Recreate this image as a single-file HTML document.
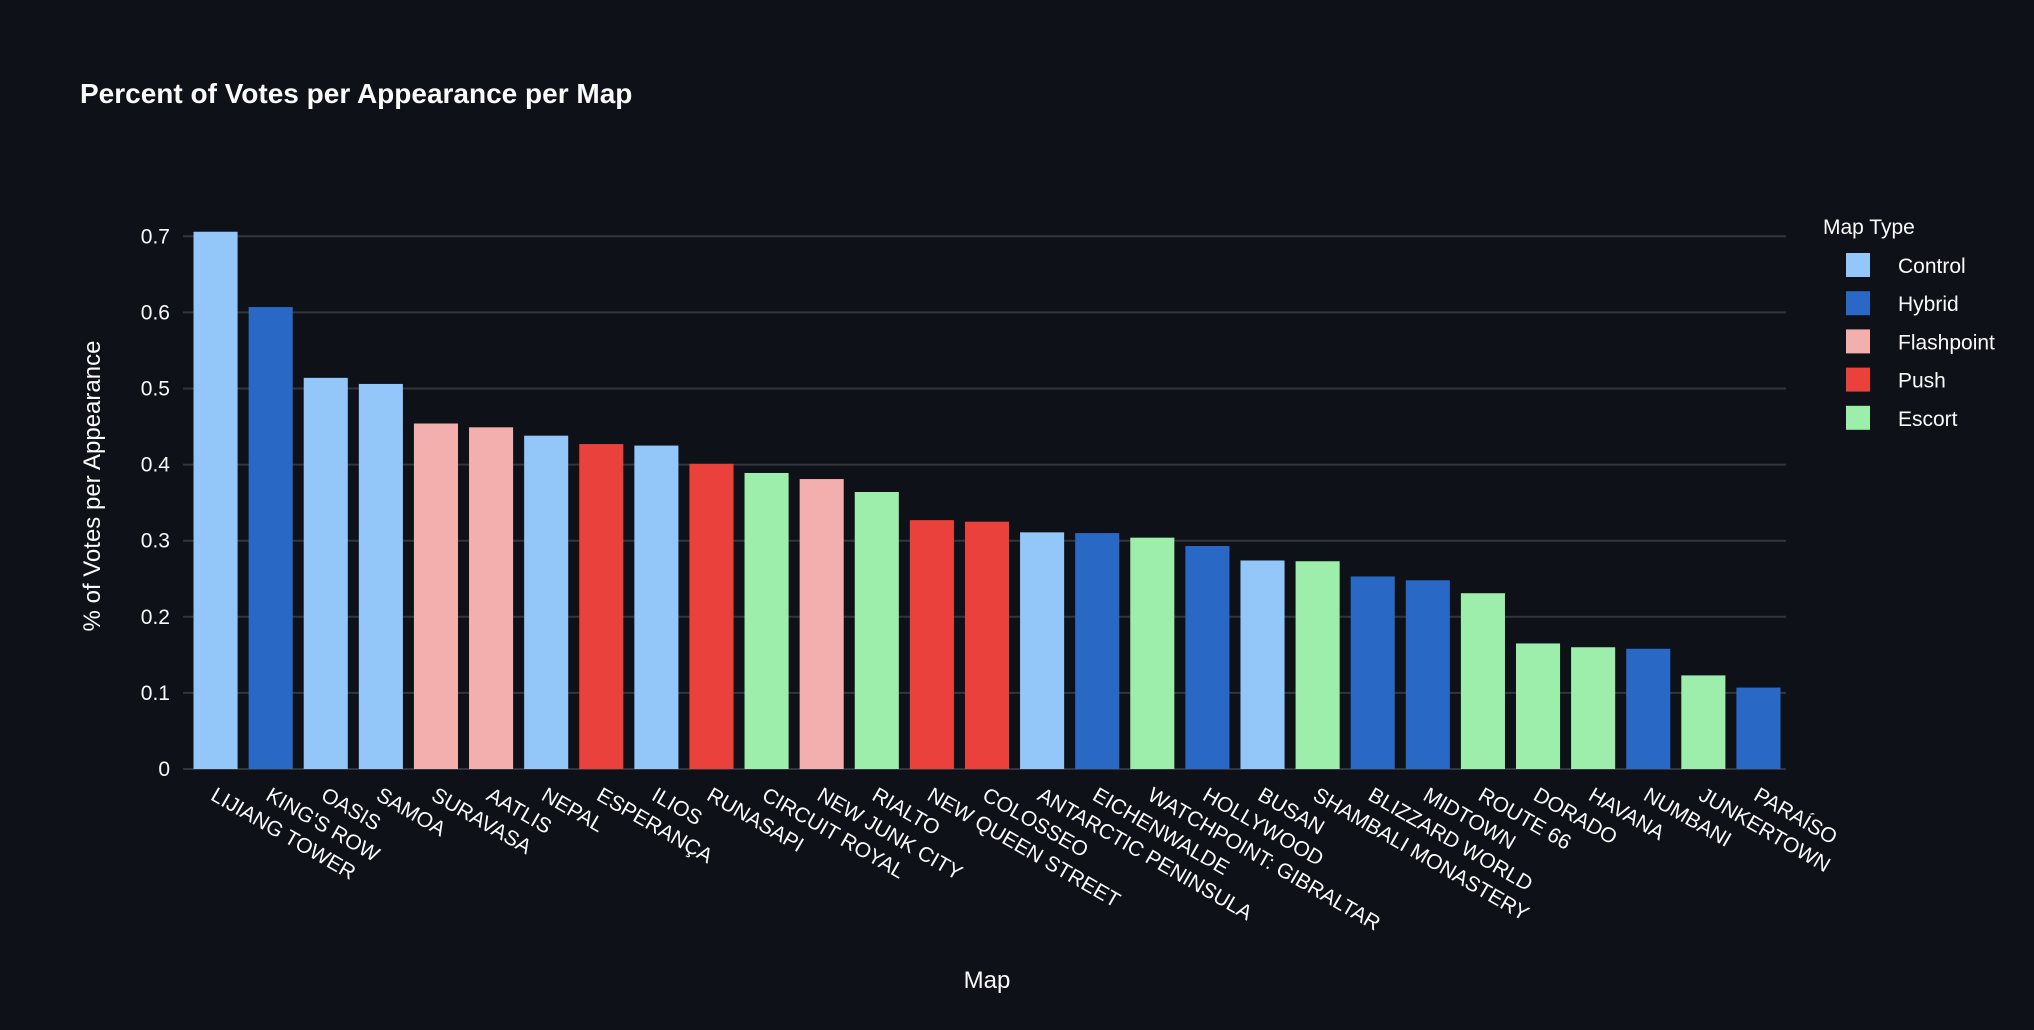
<!DOCTYPE html>
<html><head><meta charset="utf-8"><style>
html,body{margin:0;padding:0;background:#0e1117;}
svg{display:block;font-family:"Liberation Sans","DejaVu Sans",sans-serif;}
</style></head><body>
<svg id="chart" width="2034" height="1030" viewBox="0 0 2034 1030" xmlns="http://www.w3.org/2000/svg">
<rect width="2034" height="1030" fill="#0e1117"/>
<text x="80" y="103" fill="#fafafa" font-size="28" font-weight="bold">Percent of Votes per Appearance per Map</text>
<g id="grid"></g><g id="bars"></g><g id="yticks"></g><g id="xticks"></g>
<text transform="translate(100,486) rotate(-90)" text-anchor="middle" fill="#fafafa" font-size="24">% of Votes per Appearance</text>
<text x="987" y="988" text-anchor="middle" fill="#fafafa" font-size="24">Map</text>
<g id="legend">
<text x="1823" y="234" fill="#fafafa" font-size="21">Map Type</text>
</g>
</svg>
<script>
const categories=["LIJIANG TOWER","KING'S ROW","OASIS","SAMOA","SURAVASA","AATLIS","NEPAL","ESPERANÇA","ILIOS","RUNASAPI","CIRCUIT ROYAL","NEW JUNK CITY","RIALTO","NEW QUEEN STREET","COLOSSEO","ANTARCTIC PENINSULA","EICHENWALDE","WATCHPOINT: GIBRALTAR","HOLLYWOOD","BUSAN","SHAMBALI MONASTERY","BLIZZARD WORLD","MIDTOWN","ROUTE 66","DORADO","HAVANA","NUMBANI","JUNKERTOWN","PARAÍSO"];
const values=[0.706,0.607,0.514,0.506,0.454,0.449,0.438,0.427,0.425,0.401,0.389,0.381,0.364,0.327,0.325,0.311,0.310,0.304,0.293,0.274,0.273,0.253,0.248,0.231,0.165,0.160,0.158,0.123,0.107];
const mapTypes=["Control","Hybrid","Control","Control","Flashpoint","Flashpoint","Control","Push","Control","Push","Escort","Flashpoint","Escort","Push","Push","Control","Hybrid","Escort","Hybrid","Control","Escort","Hybrid","Hybrid","Escort","Escort","Escort","Hybrid","Escort","Hybrid"];
const typeNames=["Control","Hybrid","Flashpoint","Push","Escort"];
const yTicks=[0,0.1,0.2,0.3,0.4,0.5,0.6,0.7];
const yTickLabels=["0","0.1","0.2","0.3","0.4","0.5","0.6","0.7"];
const colors={Control:"#93c6f9",Hybrid:"#2a68c5",Flashpoint:"#f2afae",Push:"#eb413c",Escort:"#9dedab"};
const NS="http://www.w3.org/2000/svg";
const X0=188,X1=1786,Y0=769,PER=761;
const step=(X1-X0)/categories.length;
const xs=i=>X0+step*i;
const ys=v=>Y0-v*PER;
function mk(tag,attrs,parent){const e=document.createElementNS(NS,tag);for(const k in attrs)e.setAttribute(k,attrs[k]);parent.appendChild(e);return e;}
const grid=document.getElementById('grid'),bars=document.getElementById('bars'),yt=document.getElementById('yticks'),xt=document.getElementById('xticks'),lg=document.getElementById('legend');
yTicks.forEach((t,i)=>{
 const l=mk('line',{x1:X0-5,x2:X1,y1:ys(t),y2:ys(t),stroke:"#31353d","stroke-width":2},grid);
 
 
 const tx=mk('text',{x:170,y:ys(t)+7,"text-anchor":"end",fill:"#fafafa","font-size":21},yt);
 tx.textContent=yTickLabels[i];
 
 
});
categories.forEach((c,i)=>{
 const w=step*0.8,x=xs(i)+step*0.1;
 const r=mk('rect',{x:x,y:ys(values[i]),width:w,height:Y0-ys(values[i]),fill:colors[mapTypes[i]]},bars);
 
 
 const cx=xs(i)+step/2-6;
 const t=mk('text',{transform:`translate(${cx},${Y0+30}) rotate(30)`,fill:"#fafafa","font-size":21},xt);
 t.textContent=c;
 
 
});
typeNames.forEach((n,i)=>{
 const y=253+i*38.2;
 const s=mk('rect',{x:1846,y:y,width:24,height:24,fill:colors[n]},lg);
 
 
 const t=mk('text',{x:1898,y:y+20,fill:"#fafafa","font-size":21},lg);
 t.textContent=n;
 
 
});
</script>
</body></html>
